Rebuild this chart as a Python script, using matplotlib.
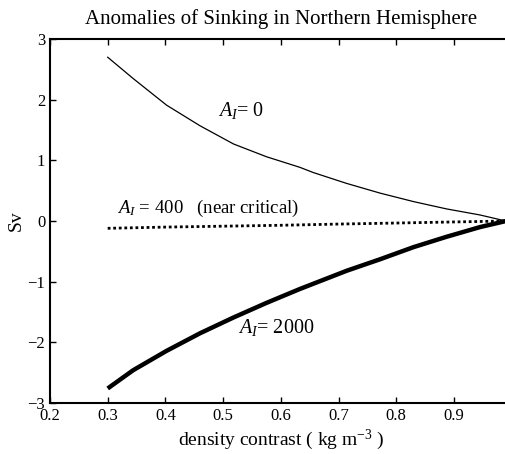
import matplotlib
matplotlib.use("Agg")
import matplotlib.pyplot as plt

plt.rcParams['font.family'] = ['Liberation Serif', 'DejaVu Serif']
plt.rcParams['mathtext.fontset'] = 'custom'
plt.rcParams['mathtext.rm'] = 'Liberation Serif'
plt.rcParams['mathtext.it'] = 'Liberation Serif:italic'

# data
x_a0 = [0.300, 0.344, 0.402, 0.460, 0.518, 0.575, 0.633, 0.656, 0.714, 0.772,
        0.830, 0.887, 0.945, 0.990]
y_a0 = [2.70, 2.35, 1.91, 1.57, 1.27, 1.06, 0.885, 0.80, 0.62, 0.46,
        0.32, 0.20, 0.10, 0.0]

x_a400 = [0.30, 0.40, 0.50, 0.60, 0.70, 0.80, 0.90, 0.99]
y_a400 = [-0.12, -0.10, -0.085, -0.07, -0.05, -0.033, -0.015, 0.0]

x_a2000 = [0.300, 0.344, 0.402, 0.460, 0.518, 0.575, 0.633, 0.714, 0.772,
           0.830, 0.887, 0.945, 0.990]
y_a2000 = [-2.76, -2.46, -2.14, -1.85, -1.59, -1.35, -1.12, -0.82, -0.63,
           -0.43, -0.26, -0.10, 0.0]

xticks = [0.2, 0.3, 0.4, 0.5, 0.6, 0.7, 0.8, 0.9, 1.0]
xticklabels = ['0.2', '0.3', '0.4', '0.5', '0.6', '0.7', '0.8', '0.9', '']
yticks = [-3, -2, -1, 0, 1, 2, 3]

fig = plt.figure(figsize=(5.06, 4.54), dpi=100)
ax = fig.add_axes([0.0988, 0.1123, 0.9125, 0.8017])

ax.plot(x_a0, y_a0, color='black', lw=0.9)
ax.plot(x_a400, y_a400, color='black', lw=2.0, ls=(0, (1, 1)))
ax.plot(x_a2000, y_a2000, color='black', lw=3.2, solid_capstyle='butt')

ax.set_xlim(0.2, 1.0)
ax.set_ylim(-3, 3)
ax.set_xticks(xticks)
ax.set_xticklabels(xticklabels)
ax.set_yticks(yticks)
ax.tick_params(direction='in', length=4, width=1, top=True, right=True, labelsize=12)
for s in ax.spines.values():
    s.set_linewidth(1.5)

ax.set_title('Anomalies of Sinking in Northern Hemisphere', fontsize=15, pad=11)
ax.set_xlabel(r'density contrast ( kg m$^{\mathregular{-3}}$ )', fontsize=14, labelpad=3)
ax.set_ylabel('Sv', fontsize=14, labelpad=2)

ax.text(0.491, 1.83, r'$A_I$= 0', fontsize=14.5, va='center', ha='left')
ax.text(0.316, 0.21, r'$A_I$ = 400   (near critical)', fontsize=13.5, va='center', ha='left')
ax.text(0.526, -1.76, r'$A_I$= 2000', fontsize=14.5, va='center', ha='left')

fig.savefig('out.png', dpi=100)
